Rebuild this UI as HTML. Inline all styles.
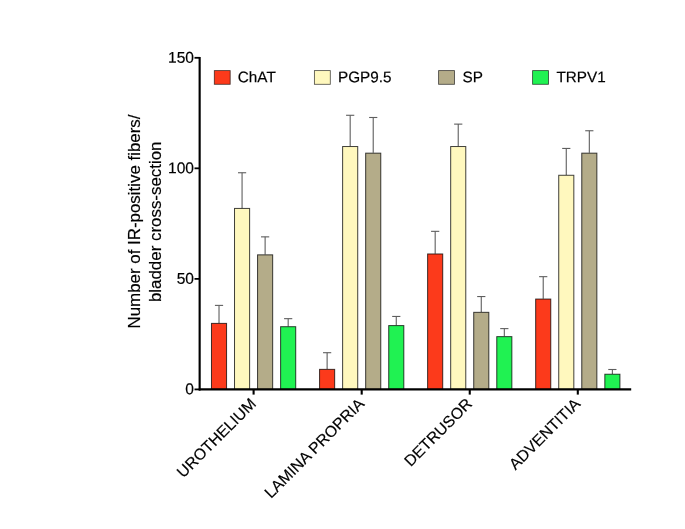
<!DOCTYPE html>
<html><head><meta charset="utf-8"><title>chart</title>
<style>
html,body{margin:0;padding:0;background:#fff;}
body{width:685px;height:529px;overflow:hidden;}
svg{display:block;font-family:"Liberation Sans",sans-serif;}
</style></head><body>
<svg width="685" height="529" viewBox="0 0 685 529">
<rect x="0" y="0" width="685" height="529" fill="#ffffff"/>

<line x1="219.02" y1="323.08" x2="219.02" y2="305.39" stroke="#5e5e5e" stroke-width="1.1"/>
<line x1="214.92" y1="305.39" x2="223.12" y2="305.39" stroke="#5e5e5e" stroke-width="1.1"/>
<rect x="211.47" y="323.38" width="15.10" height="66.02" fill="#FC3A1B" stroke="#000" stroke-width="1" stroke-opacity="0.75"/>
<line x1="242.07" y1="208.13" x2="242.07" y2="172.75" stroke="#5e5e5e" stroke-width="1.1"/>
<line x1="237.97" y1="172.75" x2="246.17" y2="172.75" stroke="#5e5e5e" stroke-width="1.1"/>
<rect x="234.52" y="208.43" width="15.10" height="180.97" fill="#FFF8BE" stroke="#000" stroke-width="1" stroke-opacity="0.75"/>
<line x1="265.12" y1="254.55" x2="265.12" y2="236.86" stroke="#5e5e5e" stroke-width="1.1"/>
<line x1="261.02" y1="236.86" x2="269.23" y2="236.86" stroke="#5e5e5e" stroke-width="1.1"/>
<rect x="257.57" y="254.85" width="15.10" height="134.55" fill="#B4AC89" stroke="#000" stroke-width="1" stroke-opacity="0.75"/>
<line x1="288.18" y1="326.40" x2="288.18" y2="318.66" stroke="#5e5e5e" stroke-width="1.1"/>
<line x1="284.07" y1="318.66" x2="292.28" y2="318.66" stroke="#5e5e5e" stroke-width="1.1"/>
<rect x="280.62" y="326.70" width="15.10" height="62.70" fill="#20F252" stroke="#000" stroke-width="1" stroke-opacity="0.75"/>
<line x1="327.12" y1="369.06" x2="327.12" y2="352.70" stroke="#5e5e5e" stroke-width="1.1"/>
<line x1="323.02" y1="352.70" x2="331.23" y2="352.70" stroke="#5e5e5e" stroke-width="1.1"/>
<rect x="319.57" y="369.36" width="15.10" height="20.04" fill="#FC3A1B" stroke="#000" stroke-width="1" stroke-opacity="0.75"/>
<line x1="350.18" y1="146.23" x2="350.18" y2="115.28" stroke="#5e5e5e" stroke-width="1.1"/>
<line x1="346.07" y1="115.28" x2="354.28" y2="115.28" stroke="#5e5e5e" stroke-width="1.1"/>
<rect x="342.62" y="146.53" width="15.10" height="242.87" fill="#FFF8BE" stroke="#000" stroke-width="1" stroke-opacity="0.75"/>
<line x1="373.22" y1="152.86" x2="373.22" y2="117.49" stroke="#5e5e5e" stroke-width="1.1"/>
<line x1="369.12" y1="117.49" x2="377.32" y2="117.49" stroke="#5e5e5e" stroke-width="1.1"/>
<rect x="365.67" y="153.16" width="15.10" height="236.24" fill="#B4AC89" stroke="#000" stroke-width="1" stroke-opacity="0.75"/>
<line x1="396.27" y1="325.29" x2="396.27" y2="316.45" stroke="#5e5e5e" stroke-width="1.1"/>
<line x1="392.17" y1="316.45" x2="400.38" y2="316.45" stroke="#5e5e5e" stroke-width="1.1"/>
<rect x="388.72" y="325.59" width="15.10" height="63.81" fill="#20F252" stroke="#000" stroke-width="1" stroke-opacity="0.75"/>
<line x1="435.18" y1="253.67" x2="435.18" y2="231.34" stroke="#5e5e5e" stroke-width="1.1"/>
<line x1="431.07" y1="231.34" x2="439.28" y2="231.34" stroke="#5e5e5e" stroke-width="1.1"/>
<rect x="427.62" y="253.97" width="15.10" height="135.43" fill="#FC3A1B" stroke="#000" stroke-width="1" stroke-opacity="0.75"/>
<line x1="458.23" y1="146.23" x2="458.23" y2="124.12" stroke="#5e5e5e" stroke-width="1.1"/>
<line x1="454.12" y1="124.12" x2="462.33" y2="124.12" stroke="#5e5e5e" stroke-width="1.1"/>
<rect x="450.68" y="146.53" width="15.10" height="242.87" fill="#FFF8BE" stroke="#000" stroke-width="1" stroke-opacity="0.75"/>
<line x1="481.27" y1="312.03" x2="481.27" y2="296.55" stroke="#5e5e5e" stroke-width="1.1"/>
<line x1="477.17" y1="296.55" x2="485.38" y2="296.55" stroke="#5e5e5e" stroke-width="1.1"/>
<rect x="473.72" y="312.33" width="15.10" height="77.07" fill="#B4AC89" stroke="#000" stroke-width="1" stroke-opacity="0.75"/>
<line x1="504.32" y1="336.34" x2="504.32" y2="328.61" stroke="#5e5e5e" stroke-width="1.1"/>
<line x1="500.22" y1="328.61" x2="508.43" y2="328.61" stroke="#5e5e5e" stroke-width="1.1"/>
<rect x="496.77" y="336.64" width="15.10" height="52.76" fill="#20F252" stroke="#000" stroke-width="1" stroke-opacity="0.75"/>
<line x1="543.22" y1="298.76" x2="543.22" y2="276.66" stroke="#5e5e5e" stroke-width="1.1"/>
<line x1="539.12" y1="276.66" x2="547.32" y2="276.66" stroke="#5e5e5e" stroke-width="1.1"/>
<rect x="535.67" y="299.06" width="15.10" height="90.34" fill="#FC3A1B" stroke="#000" stroke-width="1" stroke-opacity="0.75"/>
<line x1="566.27" y1="174.97" x2="566.27" y2="148.44" stroke="#5e5e5e" stroke-width="1.1"/>
<line x1="562.17" y1="148.44" x2="570.38" y2="148.44" stroke="#5e5e5e" stroke-width="1.1"/>
<rect x="558.73" y="175.27" width="15.10" height="214.13" fill="#FFF8BE" stroke="#000" stroke-width="1" stroke-opacity="0.75"/>
<line x1="589.32" y1="152.86" x2="589.32" y2="130.75" stroke="#5e5e5e" stroke-width="1.1"/>
<line x1="585.22" y1="130.75" x2="593.42" y2="130.75" stroke="#5e5e5e" stroke-width="1.1"/>
<rect x="581.77" y="153.16" width="15.10" height="236.24" fill="#B4AC89" stroke="#000" stroke-width="1" stroke-opacity="0.75"/>
<line x1="612.38" y1="373.93" x2="612.38" y2="369.50" stroke="#5e5e5e" stroke-width="1.1"/>
<line x1="608.27" y1="369.50" x2="616.48" y2="369.50" stroke="#5e5e5e" stroke-width="1.1"/>
<rect x="604.83" y="374.23" width="15.10" height="15.17" fill="#20F252" stroke="#000" stroke-width="1" stroke-opacity="0.75"/>
<line x1="199.65" y1="56.90" x2="199.65" y2="390.40" stroke="#000" stroke-width="2.15"/>
<line x1="198.8" y1="389.40" x2="631.2" y2="389.40" stroke="#000" stroke-width="2.1"/>
<line x1="194.5" y1="389.40" x2="199.8" y2="389.40" stroke="#000" stroke-width="1.8"/>
<line x1="194.5" y1="278.87" x2="199.8" y2="278.87" stroke="#000" stroke-width="1.8"/>
<line x1="194.5" y1="168.33" x2="199.8" y2="168.33" stroke="#000" stroke-width="1.8"/>
<line x1="194.5" y1="57.80" x2="199.8" y2="57.80" stroke="#000" stroke-width="1.8"/>
<line x1="253.60" y1="389.40" x2="253.60" y2="394.60" stroke="#000" stroke-width="2.1"/>
<line x1="361.70" y1="389.40" x2="361.70" y2="394.60" stroke="#000" stroke-width="2.1"/>
<line x1="469.75" y1="389.40" x2="469.75" y2="394.60" stroke="#000" stroke-width="2.1"/>
<line x1="577.80" y1="389.40" x2="577.80" y2="394.60" stroke="#000" stroke-width="2.1"/>
<rect x="214.30" y="70.6" width="15.9" height="13.7" fill="#FC3A1B" stroke="#000" stroke-width="0.85" stroke-opacity="0.68"/>
<rect x="314.40" y="70.6" width="15.9" height="13.7" fill="#FFF8BE" stroke="#000" stroke-width="0.85" stroke-opacity="0.68"/>
<rect x="438.60" y="70.6" width="15.9" height="13.7" fill="#B4AC89" stroke="#000" stroke-width="0.85" stroke-opacity="0.68"/>
<rect x="532.60" y="70.6" width="15.9" height="13.7" fill="#20F252" stroke="#000" stroke-width="0.85" stroke-opacity="0.68"/>
<g style="filter:grayscale(1)" stroke="#000" stroke-width="0.18">
<text transform="translate(194.0,394.25) rotate(-0.03)" font-size="15.6" text-anchor="end" fill="#000">0</text>
<text transform="translate(194.0,283.72) rotate(-0.03)" font-size="15.6" text-anchor="end" fill="#000">50</text>
<text transform="translate(194.0,173.18) rotate(-0.03)" font-size="15.6" text-anchor="end" fill="#000">100</text>
<text transform="translate(194.0,62.65) rotate(-0.03)" font-size="15.6" text-anchor="end" fill="#000">150</text>
<text transform="translate(257.00,404.80) rotate(-45)" font-size="15.75" text-anchor="end" fill="#000">UROTHELIUM</text>
<text transform="translate(365.10,404.80) rotate(-45)" font-size="15.75" text-anchor="end" fill="#000">LAMINA PROPRIA</text>
<text transform="translate(473.15,404.80) rotate(-45)" font-size="15.75" text-anchor="end" fill="#000">DETRUSOR</text>
<text transform="translate(581.20,404.80) rotate(-45)" font-size="15.75" text-anchor="end" fill="#000">ADVENTITIA</text>
<text transform="translate(139.5,221.5) rotate(-90)" font-size="16.9" text-anchor="middle" fill="#000">Number of IR-positive fibers/</text>
<text transform="translate(160.5,221.8) rotate(-90)" font-size="16.9" text-anchor="middle" fill="#000">bladder cross-section</text>
<text transform="translate(237.80,82.2) rotate(-0.03)" font-size="15.3" fill="#000">ChAT</text>
<text transform="translate(338.00,82.2) rotate(-0.03)" font-size="15.3" fill="#000">PGP9.5</text>
<text transform="translate(462.50,82.2) rotate(-0.03)" font-size="15.3" fill="#000">SP</text>
<text transform="translate(556.40,82.2) rotate(-0.03)" font-size="15.3" fill="#000">TRPV1</text>
</g>
</svg></body></html>
